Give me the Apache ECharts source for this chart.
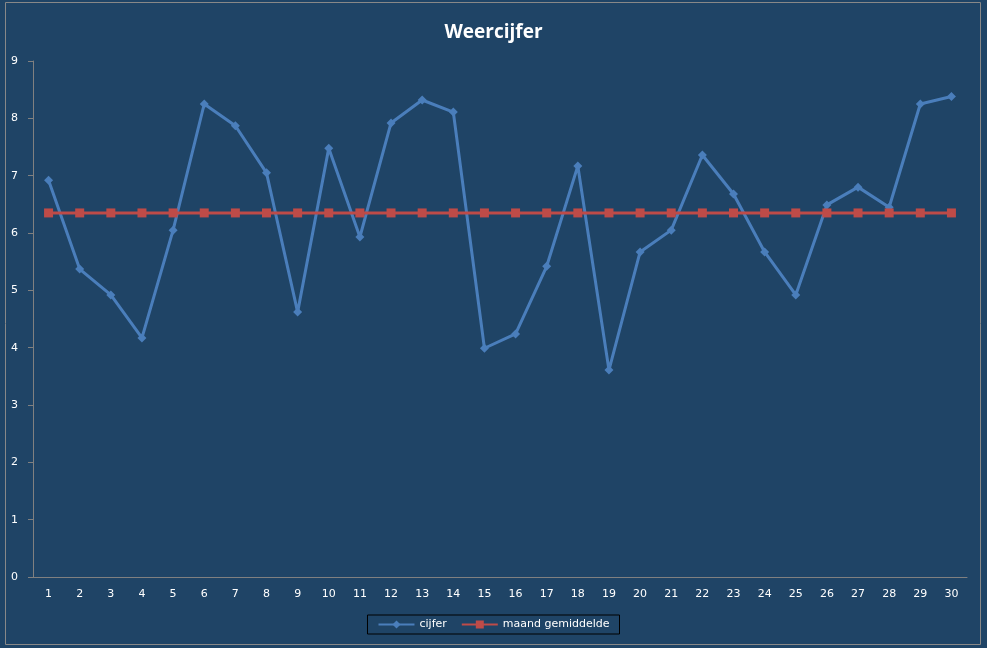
<!DOCTYPE html><html><head><meta charset="utf-8"><script src="https://cdn.jsdelivr.net/npm/echarts@6/dist/echarts.min.js"></script>
<style>html,body{margin:0;padding:0;background:#fff}#c{width:987px;height:648px}</style></head><body><div id="c"></div><script>
const days=Array.from({length:30},(_,i)=>String(i+1));
const cijfer=[6.92,5.37,4.92,4.17,6.05,8.25,7.87,7.05,4.62,7.48,5.93,7.92,8.32,8.11,3.99,4.24,5.42,7.17,3.61,5.67,6.05,7.36,6.68,5.67,4.92,6.49,6.8,6.45,8.25,8.38];
const gemiddelde=[6.35,6.35,6.35,6.35,6.35,6.35,6.35,6.35,6.35,6.35,6.35,6.35,6.35,6.35,6.35,6.35,6.35,6.35,6.35,6.35,6.35,6.35,6.35,6.35,6.35,6.35,6.35,6.35,6.35,6.35];
const c=echarts.init(document.getElementById('c'));
const ax={color:'#808080'};
c.setOption({backgroundColor:'#1F4466',animation:false,
graphic:[{type:'rect',shape:{x:5.5,y:2.5,width:975,height:642},style:{fill:'none',stroke:'#888',lineWidth:1}}],
title:{text:'Weercijfer',left:'center',top:18,textStyle:{color:'#fff',fontFamily:'Open Sans',fontSize:19,fontWeight:'bold'}},
legend:{bottom:14,left:'center',itemWidth:36,itemHeight:10,itemGap:14,padding:[4,10],borderColor:'#000',borderWidth:1,textStyle:{color:'#fff',fontSize:11,fontFamily:'DejaVu Sans'}},
grid:{left:33,right:20,top:61,bottom:71},
xAxis:{type:'category',data:days,boundaryGap:true,axisLine:{lineStyle:ax},axisTick:{lineStyle:ax,length:5},axisLabel:{color:'#fff',fontSize:11,fontFamily:'DejaVu Sans',margin:12}},
yAxis:{type:'value',min:0,max:9,interval:1,axisLine:{show:true,lineStyle:ax},axisTick:{show:true,lineStyle:ax,length:5},splitLine:{show:false},axisLabel:{color:'#fff',fontSize:11,fontFamily:'DejaVu Sans',margin:15}},
series:[{name:'cijfer',type:'line',data:cijfer,symbol:'diamond',symbolSize:9,lineStyle:{color:'#4A7EBB',width:3},itemStyle:{color:'#4A7EBB'}},
{name:'maand gemiddelde',type:'line',data:gemiddelde,symbol:'rect',symbolSize:9,lineStyle:{color:'#BE4B48',width:3},itemStyle:{color:'#BE4B48'}}]});
</script></body></html>
